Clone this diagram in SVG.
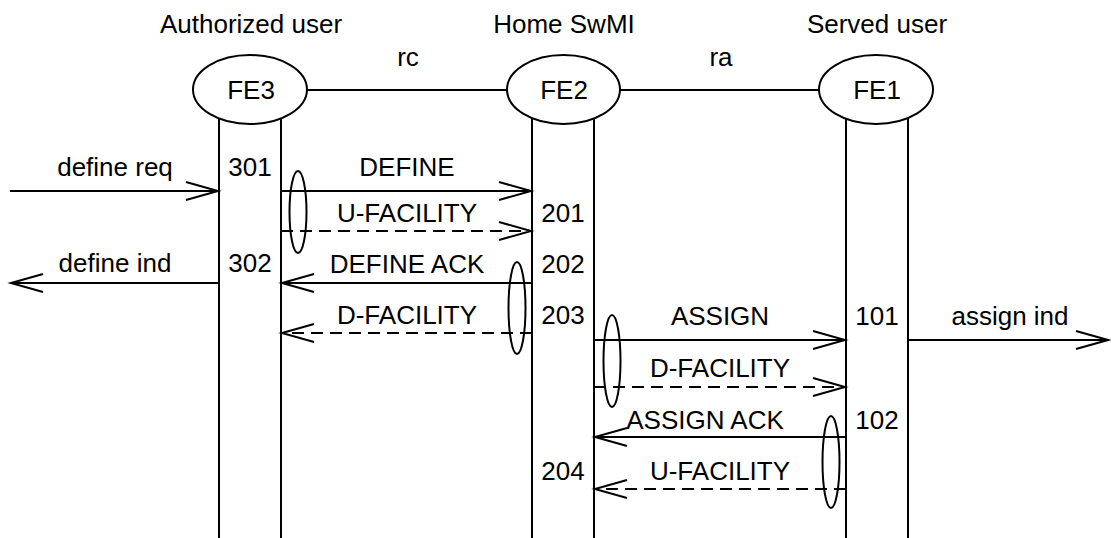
<svg xmlns="http://www.w3.org/2000/svg" width="1111" height="538" viewBox="0 0 1111 538">
<style>
text{font-family:"Liberation Sans",Arial,sans-serif;font-size:26px;fill:#000;text-anchor:middle}
.l{stroke:#000;stroke-width:2;fill:none}
.d{stroke:#000;stroke-width:2;fill:none;stroke-dasharray:12 7}
.e{stroke:#000;stroke-width:2;fill:#fff}
.g{stroke:#000;stroke-width:2;fill:none}
</style>
<defs>
<marker id="ah" viewBox="-36 -12 40 24" refX="0" refY="0" markerWidth="40" markerHeight="24" markerUnits="userSpaceOnUse" orient="auto">
<path d="M-32,-9 L0,0 L-32,9" fill="none" stroke="#000" stroke-width="2"/>
</marker>
</defs>
<rect width="1111" height="538" fill="#fff"/>
<g id="connectors">
<line class="l" x1="306" y1="90" x2="507" y2="90"/>
<line class="l" x1="619" y1="90" x2="820" y2="90"/>
<line class="l" x1="219" y1="90" x2="219" y2="538"/>
<line class="l" x1="281" y1="90" x2="281" y2="538"/>
<line class="l" x1="532" y1="90" x2="532" y2="538"/>
<line class="l" x1="594" y1="90" x2="594" y2="538"/>
<line class="l" x1="846" y1="90" x2="846" y2="538"/>
<line class="l" x1="908" y1="90" x2="908" y2="538"/>
<line class="l" x1="10" y1="191" x2="218" y2="191" marker-end="url(#ah)"/>
<line class="l" x1="281" y1="191" x2="531" y2="191" marker-end="url(#ah)"/>
<line class="d" x1="281" y1="231" x2="531" y2="231" marker-end="url(#ah)"/>
<line class="l" x1="219" y1="283" x2="11" y2="283" marker-end="url(#ah)"/>
<line class="l" x1="532" y1="283" x2="282" y2="283" marker-end="url(#ah)"/>
<line class="d" x1="532" y1="333" x2="282" y2="333" marker-end="url(#ah)"/>
<line class="l" x1="594" y1="340" x2="845" y2="340" marker-end="url(#ah)"/>
<line class="l" x1="908" y1="340" x2="1108" y2="340" marker-end="url(#ah)"/>
<line class="d" x1="594" y1="387" x2="845" y2="387" marker-end="url(#ah)"/>
<line class="l" x1="846" y1="437" x2="595" y2="437" marker-end="url(#ah)"/>
<line class="d" x1="846" y1="489" x2="595" y2="489" marker-end="url(#ah)"/>
<ellipse class="g" cx="298" cy="212" rx="8.5" ry="41"/>
<ellipse class="g" cx="517" cy="308" rx="8.5" ry="46"/>
<ellipse class="g" cx="612" cy="361" rx="8.5" ry="46"/>
<ellipse class="g" cx="831" cy="462" rx="8.5" ry="46"/>
</g>
<g id="fe3">
<text x="251" y="33">Authorized user</text>
<ellipse class="e" cx="250" cy="89.5" rx="57" ry="34.5"/>
<text x="251" y="99">FE3</text>
</g>
<g id="fe2">
<text x="564" y="33">Home SwMI</text>
<ellipse class="e" cx="563.5" cy="89.5" rx="56.5" ry="34.5"/>
<text x="564" y="99">FE2</text>
</g>
<g id="fe1">
<text x="877" y="33">Served user</text>
<ellipse class="e" cx="876" cy="89.5" rx="57" ry="34.5"/>
<text x="877" y="99">FE1</text>
</g>
<g id="labels">
<text x="408" y="66">rc</text>
<text x="721" y="66">ra</text>
<text x="115" y="176">define req</text>
<text x="115" y="272">define ind</text>
<text x="250" y="176">301</text>
<text x="250" y="272">302</text>
<text x="407" y="176">DEFINE</text>
<text x="407" y="222">U-FACILITY</text>
<text x="407" y="273">DEFINE ACK</text>
<text x="407" y="324">D-FACILITY</text>
<text x="563" y="222">201</text>
<text x="563" y="273">202</text>
<text x="563" y="324">203</text>
<text x="563" y="480">204</text>
<text x="720" y="325">ASSIGN</text>
<text x="720" y="377">D-FACILITY</text>
<text x="705" y="429">ASSIGN ACK</text>
<text x="720" y="480">U-FACILITY</text>
<text x="877" y="325">101</text>
<text x="877" y="429">102</text>
<text x="1010" y="325">assign ind</text>
</g>
</svg>
